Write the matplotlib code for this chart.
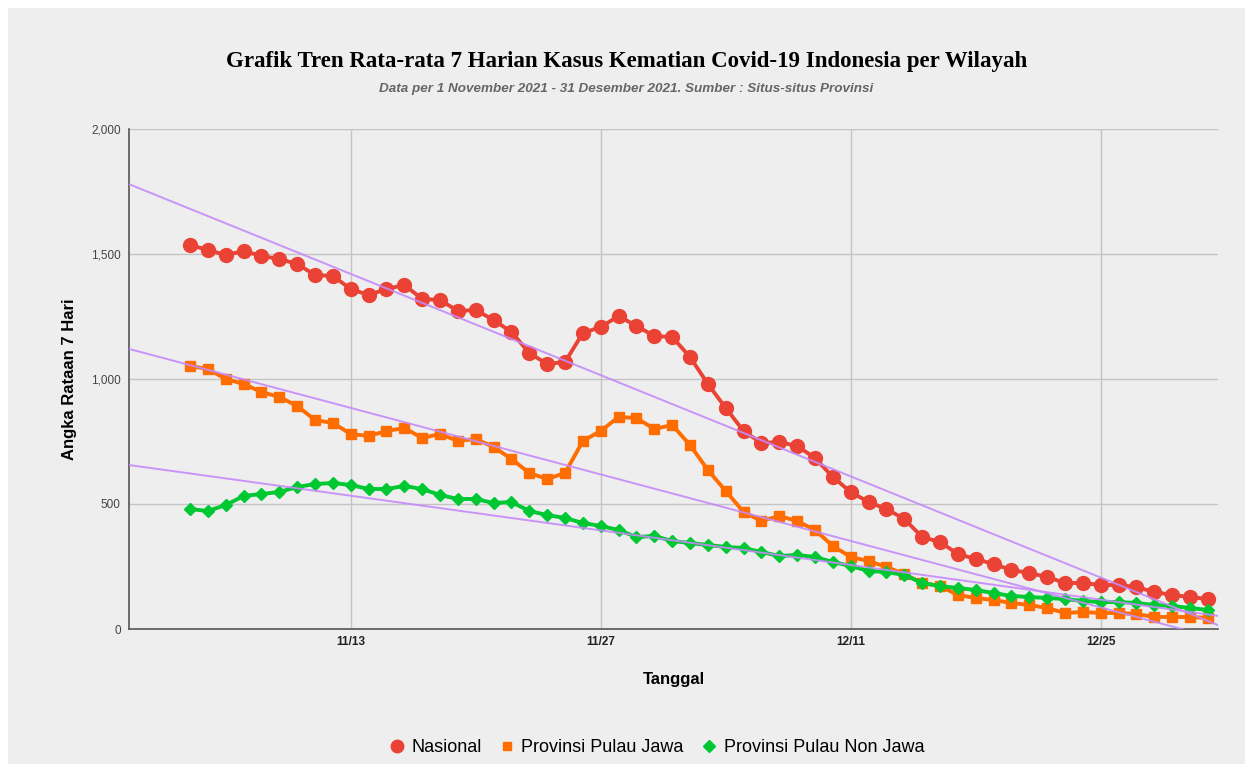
import matplotlib.pyplot as plt
import matplotlib.dates as mdates
import numpy as np
import pandas as pd

plt.rcParams['font.family'] = ['Liberation Sans', 'DejaVu Sans']

# ------------------------------------------------------------------ #
#       data - 7 day average of covid-19 deaths, 4 Nov - 31 Dec       #
# ------------------------------------------------------------------ #

tanggal = pd.date_range('2021-11-04', '2021-12-31', freq='D')

nasional = [1536, 1516, 1496, 1512, 1492, 1480, 1460, 1416, 1412, 1360,
            1336, 1360, 1376, 1320, 1316, 1272, 1276, 1236, 1188, 1104,
            1060, 1068, 1184, 1208, 1252, 1212, 1172, 1168, 1088, 980,
            884, 792, 744, 748, 732, 684, 608, 548, 508, 480,
            440, 368, 348, 300, 280, 260, 236, 224, 208, 184,
            184, 176, 176, 168, 148, 136, 128, 120]

jawa = [1052, 1040, 1000, 980, 948, 928, 892, 836, 824, 780,
        772, 792, 804, 764, 780, 752, 760, 728, 680, 624,
        600, 624, 752, 792, 848, 844, 800, 816, 736, 636,
        552, 468, 432, 452, 432, 396, 332, 288, 272, 248,
        220, 184, 172, 136, 124, 116, 104, 96, 84, 64,
        68, 64, 64, 60, 48, 48, 48, 44]

non_jawa = [480, 472, 496, 532, 540, 548, 568, 580, 584, 576,
            560, 560, 572, 560, 536, 520, 520, 504, 508, 472,
            456, 444, 424, 412, 396, 368, 372, 352, 344, 336,
            328, 324, 308, 292, 296, 288, 268, 252, 232, 228,
            216, 184, 172, 164, 156, 144, 132, 128, 124, 120,
            112, 108, 108, 104, 96, 92, 84, 76]

tick_dates = ['2021-11-13', '2021-11-27', '2021-12-11', '2021-12-25']
tick_labels = ['11/13', '11/27', '12/11', '12/25']

# ------------------------------------------------------------------ #
#                               plot                                  #
# ------------------------------------------------------------------ #

bg = '#eeeeee'
fig = plt.figure(figsize=(12.53, 7.72), dpi=100, facecolor='white')
# grey chart card inside the white screenshot border
card = plt.Rectangle((8/1253, 8/772), 1 - 16/1253, 1 - 16/772,
                     transform=fig.transFigure, facecolor=bg,
                     edgecolor='none', zorder=-10)
fig.patches.append(card)

ax = fig.add_axes([129/1253, 1 - 629/772, (1218 - 129)/1253, 500/772])
ax.set_facecolor(bg)

x = mdates.date2num(tanggal)
xlim = (x[0] - 3.42, x[-1] + 0.57)

series = [
    (nasional, 'Nasional', '#ea4335', 'o', 10),
    (jawa, 'Provinsi Pulau Jawa', '#ff6d01', 's', 7),
    (non_jawa, 'Provinsi Pulau Non Jawa', '#00c832', 'D', 6.5),
]

for vals, name, col, mk, ms in series:
    ax.plot(x, vals, color=col, lw=2.8, marker=mk, markersize=ms,
            label=name, zorder=3)

# linear trendlines over the whole axis
xx = np.array(xlim)
for vals, name, col, mk, ms in series:
    k, b = np.polyfit(x, vals, 1)
    ax.plot(xx, k*xx + b, color='#c58af9', lw=1.4, alpha=0.9, zorder=4)

ax.set_xlim(xlim)
ax.set_ylim(0, 2000)
ax.set_yticks([0, 500, 1000, 1500, 2000])
ax.yaxis.set_major_formatter(plt.FuncFormatter(lambda v, p: '{:,.0f}'.format(v)))
ax.set_xticks(mdates.date2num(pd.to_datetime(tick_dates)))
ax.set_xticklabels(tick_labels)

ax.grid(True, color='#c4c4c4', lw=1)
ax.set_axisbelow(True)
for s in ['top', 'right']:
    ax.spines[s].set_visible(False)
for s in ['left', 'bottom']:
    ax.spines[s].set_color('#555555')
    ax.spines[s].set_linewidth(1.2)
ax.tick_params(axis='y', length=0, pad=6)
ax.tick_params(axis='x', length=0, pad=5)
for t in ax.get_yticklabels():
    t.set_fontsize(8.5)
    t.set_color('#444444')
for t in ax.get_xticklabels():
    t.set_fontsize(8.5)
    t.set_fontweight('bold')
    t.set_color('#222222')

ax.set_xlabel('Tanggal', fontsize=12, fontweight='bold', labelpad=17)
ax.set_ylabel('Angka Rataan 7 Hari', fontsize=12, fontweight='bold', labelpad=10)

fig.text(0.5, 1 - 61/772, 'Grafik Tren Rata-rata 7 Harian Kasus Kematian Covid-19 Indonesia per Wilayah',
         ha='center', va='center', fontsize=16.5, fontweight='bold', family='Liberation Serif')
fig.text(0.5, 1 - 89/772, 'Data per 1 November 2021 - 31 Desember 2021. Sumber : Situs-situs Provinsi',
         ha='center', va='center', fontsize=9.7, fontweight='bold', style='italic', color='#666666')

handles = [plt.Line2D([], [], ls='none', marker=mk, color=col, markersize=ms*0.9)
           for vals, name, col, mk, ms in series]
fig.legend(handles, [s[1] for s in series], loc='center', bbox_to_anchor=(656/1253, 1 - 748/772),
           ncol=3, frameon=False, fontsize=13, handletextpad=0.3, columnspacing=0.9,
           handlelength=1.0)

plt.savefig('out.png', dpi=100, facecolor='white')
plt.close()
